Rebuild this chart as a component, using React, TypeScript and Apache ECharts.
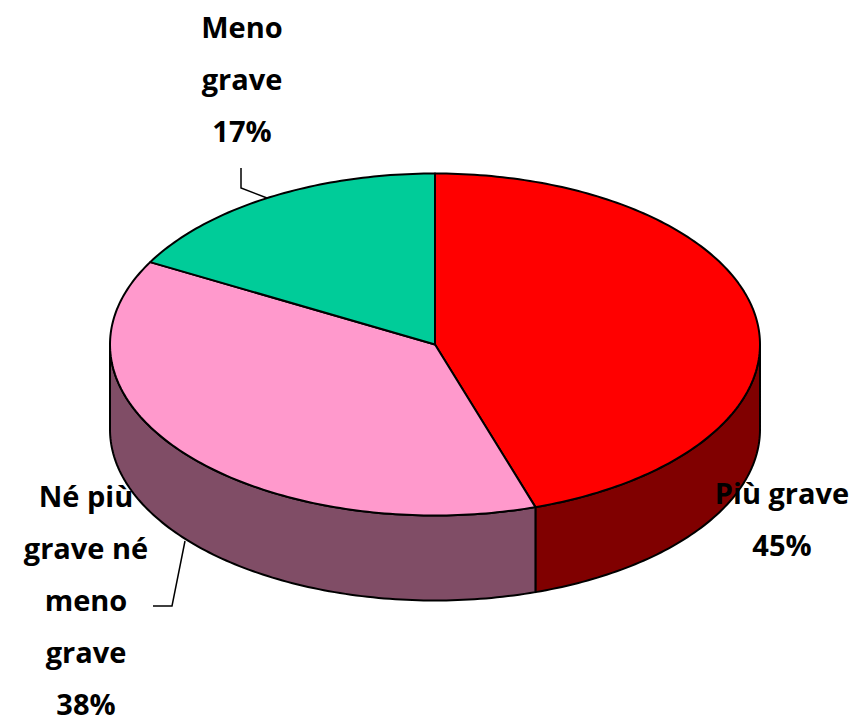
import React, { useEffect, useRef } from "react";
import * as echarts from "echarts";

const categories = ["Più grave", "Né più grave né meno grave", "Meno grave"];
const shares = [45, 38, 17];
const topColors = ["#FF0000", "#FF99CC", "#00CC99"];
const sideColors = ["#800000", "#804D66", "#006666"];
const labelLines = [
  ["Più grave", "45%"],
  ["Né più", "grave né", "meno", "grave", "38%"],
  ["Meno", "grave", "17%"],
];
const labelAnchors = [
  [782, 492],
  [86, 495],
  [242, 26],
];
const leaders = [
  [],
  [[185, 541], [172, 606], [153, 606]],
  [[241, 168], [241, 188], [267, 198]],
];

const CX = 435;
const CY = 344.5;
const RX = 325;
const RY = 171;
const DEPTH = 85;
const FONT = '"Comic Sans MS", "Open Sans", sans-serif';
const LINE_HEIGHT = 52.2;
const total = shares.reduce((a, b) => a + b, 0);

const rim = (deg: number, dy = 0) => {
  const r = (deg * Math.PI) / 180;
  return [CX + RX * Math.sin(r), CY - RY * Math.cos(r) + dy];
};
const arc = (from: number, to: number, dy = 0) => {
  const pts: number[][] = [];
  const n = Math.max(2, Math.ceil(Math.abs(to - from)));
  for (let i = 0; i <= n; i++) pts.push(rim(from + ((to - from) * i) / n, dy));
  return pts;
};

const renderSlice = (params: any, api: any) => {
  const i = params.dataIndex;
  const before = shares.slice(0, i).reduce((a, b) => a + b, 0);
  const start = (before / total) * 360;
  const end = ((before + api.value(0)) / total) * 360;
  const lineStyle = { stroke: "#000", lineWidth: 2, lineJoin: "round" };
  const children: any[] = [];
  const s0 = Math.max(start, 90);
  const s1 = Math.min(end, 270);
  if (s1 > s0) {
    children.push({
      type: "polygon",
      z2: 1,
      shape: { points: [...arc(s0, s1), ...arc(s1, s0, DEPTH)] },
      style: { fill: sideColors[i], ...lineStyle },
    });
  }
  children.push({
    type: "polygon",
    z2: 2,
    shape: { points: [[CX, CY], ...arc(start, end)] },
    style: { fill: topColors[i], ...lineStyle },
  });
  return { type: "group", children };
};

export default function App() {
  const ref = useRef<HTMLDivElement>(null);
  useEffect(() => {
    const chart = echarts.init(ref.current!, undefined, { renderer: "svg" });
    const graphic: any[] = [];
    labelLines.forEach((lines, i) => {
      lines.forEach((line, j) => {
        graphic.push({
          type: "text",
          x: labelAnchors[i][0],
          y: labelAnchors[i][1] + j * LINE_HEIGHT,
          z: 20,
          style: {
            text: line,
            fill: "#000",
            font: `bold 29px ${FONT}`,
            align: "center",
            verticalAlign: "middle",
          },
        });
      });
      if (leaders[i].length) {
        graphic.push({
          type: "polyline",
          z: 15,
          shape: { points: leaders[i] },
          style: { stroke: "#000", lineWidth: 1.5, fill: "none" },
        });
      }
    });
    chart.setOption({
      animation: false,
      backgroundColor: "#fff",
      series: [
        {
          type: "custom",
          coordinateSystem: "none",
          renderItem: renderSlice,
          data: shares.map((v, i) => ({ name: categories[i], value: [v] })),
          silent: true,
        },
      ],
      graphic,
    });
    return () => chart.dispose();
  }, []);
  return (
    <div
      ref={ref}
      style={{ position: "absolute", left: 0, top: 0, width: 861, height: 722 }}
    />
  );
}
